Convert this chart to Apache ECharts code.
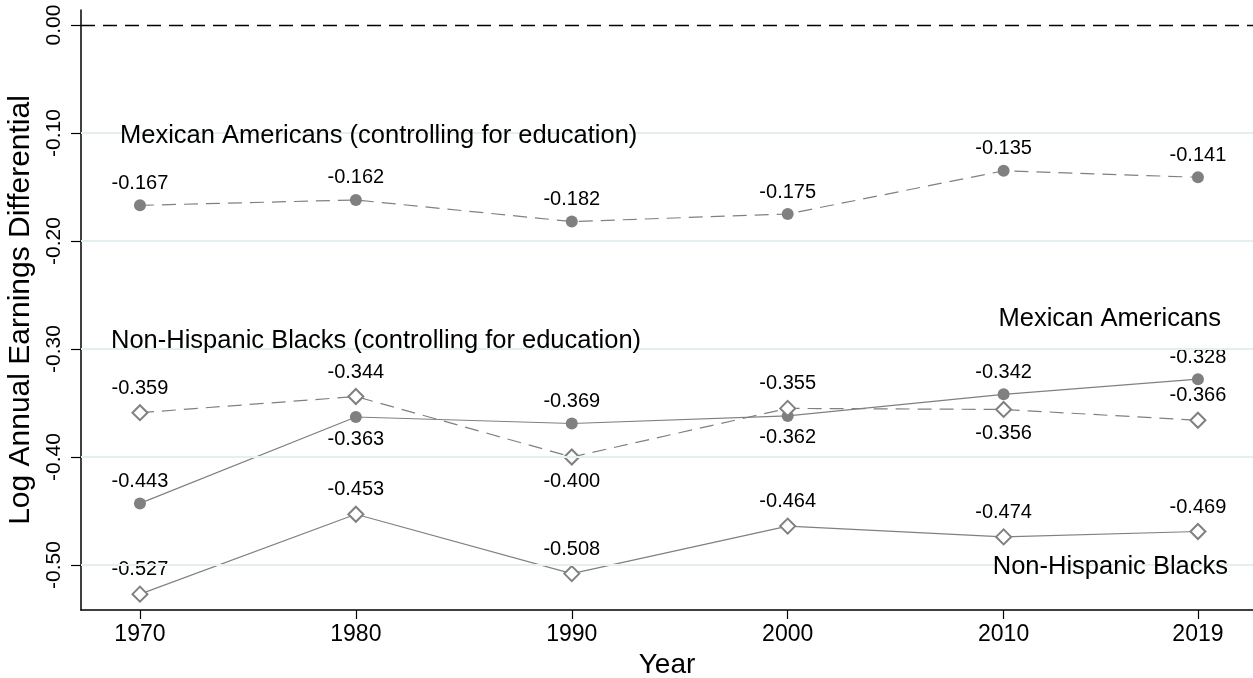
<!DOCTYPE html>
<html>
<head>
<meta charset="utf-8">
<script src="https://cdn.jsdelivr.net/npm/echarts@6/dist/echarts.min.js"></script>
<style>
html,body{margin:0;padding:0;background:#fff;}
#chart{width:1253px;height:678px;}
</style>
</head>
<body>
<div id="chart"></div>
<script>
// ---- data ----
const years = [1970, 1980, 1990, 2000, 2010, 2019];
const mexicanEdu = [-0.167, -0.162, -0.182, -0.175, -0.135, -0.141];
const mexican = [-0.443, -0.363, -0.369, -0.362, -0.342, -0.328];
const blackEdu = [-0.359, -0.344, -0.400, -0.355, -0.356, -0.366];
const black = [-0.527, -0.453, -0.508, -0.464, -0.474, -0.469];
const yTicks = [0, -0.1, -0.2, -0.3, -0.4, -0.5];
const xTicks = [1970, 1980, 1990, 2000, 2010, 2019];
const gridValues = [-0.1, -0.2, -0.3, -0.4, -0.5];
const refValue = 0;

// label sides (above / below the marker)
const mexicanSide = ['top', 'bottom', 'top', 'bottom', 'top', 'top'];
const blackEduSide = ['top', 'top', 'bottom', 'top', 'bottom', 'top'];

const FONT = '"Liberation Sans", Arial, Helvetica, sans-serif';
const GRAY = '#808080';

function pts(vals, sides) {
  return vals.map((v, i) => {
    const p = { value: [years[i], v] };
    if (sides) p.label = { position: sides[i] };
    return p;
  });
}

const labelCfg = {
  show: true, position: 'top', distance: 6,
  fontFamily: FONT, fontSize: 20, color: '#000',
  formatter: p => p.value[1].toFixed(3)
};

function circleSeries(name, vals, dashed, sides) {
  return {
    name, type: 'line', z: 3,
    data: pts(vals, sides),
    symbol: 'circle', symbolSize: 12,
    itemStyle: { color: GRAY },
    lineStyle: { color: GRAY, width: 1.2, type: dashed ? [14, 8] : 'solid' },
    label: labelCfg,
    emphasis: { disabled: true }, animation: false
  };
}
function diamondSeries(name, vals, dashed, sides) {
  return {
    name, type: 'line', z: 3,
    data: pts(vals, sides),
    symbol: 'diamond', symbolSize: [15, 15],
    itemStyle: { color: '#fff', borderColor: GRAY, borderWidth: 2 },
    lineStyle: { color: GRAY, width: 1.2, type: dashed ? [14, 8] : 'solid' },
    label: labelCfg,
    emphasis: { disabled: true }, animation: false
  };
}

const chart = echarts.init(document.getElementById('chart'), null, { renderer: 'canvas' });

const option = {
  backgroundColor: '#fff',
  animation: false,
  grid: { left: 81, right: 0, top: 10, height: 600, containLabel: false, outerBoundsMode: 'none' },
  xAxis: {
    type: 'value', min: 1967.27, max: 2021.55,
    name: 'Year', nameLocation: 'middle', nameGap: 38,
    nameTextStyle: { fontFamily: FONT, fontSize: 28, color: '#000' },
    axisLine: { show: true, onZero: false, lineStyle: { color: '#000', width: 1.5 } },
    axisTick: { show: true, length: 9, inside: false, customValues: xTicks, lineStyle: { color: '#000', width: 1.2 } },
    axisLabel: { show: true, customValues: xTicks, margin: 13, fontFamily: FONT, fontSize: 23, color: '#000', formatter: v => String(v) },
    splitLine: { show: false }
  },
  yAxis: {
    type: 'value', min: -0.5417, max: 0.0139,
    name: 'Log Annual Earnings Differential', nameLocation: 'middle', nameGap: 44, nameRotate: 90,
    nameTextStyle: { fontFamily: FONT, fontSize: 30, color: '#000' },
    axisLine: { show: true, onZero: false, lineStyle: { color: '#000', width: 1.5 } },
    axisTick: { show: true, length: 10, inside: false, customValues: yTicks, lineStyle: { color: '#000', width: 1.2 } },
    axisLabel: { show: true, customValues: yTicks, rotate: 90, margin: 16, fontFamily: FONT, fontSize: 21, color: '#000', formatter: v => v.toFixed(2) },
    splitLine: { show: false }
  },
  graphic: [
    { type: 'text', left: 120, top: 123, z: 10, style: { text: 'Mexican Americans (controlling for education)', font: '25.5px ' + FONT, fill: '#000' } },
    { type: 'text', left: 111, top: 328, z: 10, style: { text: 'Non-Hispanic Blacks (controlling for education)', font: '25.5px ' + FONT, fill: '#000' } },
    { type: 'text', right: 32, top: 306, z: 10, style: { text: 'Mexican Americans', font: '25.5px ' + FONT, fill: '#000' } },
    { type: 'text', right: 25, top: 554, z: 10, style: { text: 'Non-Hispanic Blacks', font: '25.5px ' + FONT, fill: '#000' } }
  ],
  series: [
    {
      name: 'grid', type: 'line', z: 1, data: [], silent: true,
      markLine: {
        silent: true, symbol: 'none', animation: false,
        label: { show: false },
        lineStyle: { color: '#e5eef1', width: 2, type: 'solid' },
        data: gridValues.map(v => ({ yAxis: v }))
      }
    },
    {
      name: 'ref', type: 'line', z: 2, data: [], silent: true,
      markLine: {
        silent: true, symbol: 'none', animation: false,
        label: { show: false },
        lineStyle: { color: '#000', width: 1.3, type: [14, 8] },
        data: [{ yAxis: refValue }]
      }
    },
    circleSeries('Mexican Americans (controlling for education)', mexicanEdu, true),
    circleSeries('Mexican Americans', mexican, false, mexicanSide),
    diamondSeries('Non-Hispanic Blacks (controlling for education)', blackEdu, true, blackEduSide),
    diamondSeries('Non-Hispanic Blacks', black, false)
  ]
};
chart.setOption(option);
</script>
</body>
</html>
